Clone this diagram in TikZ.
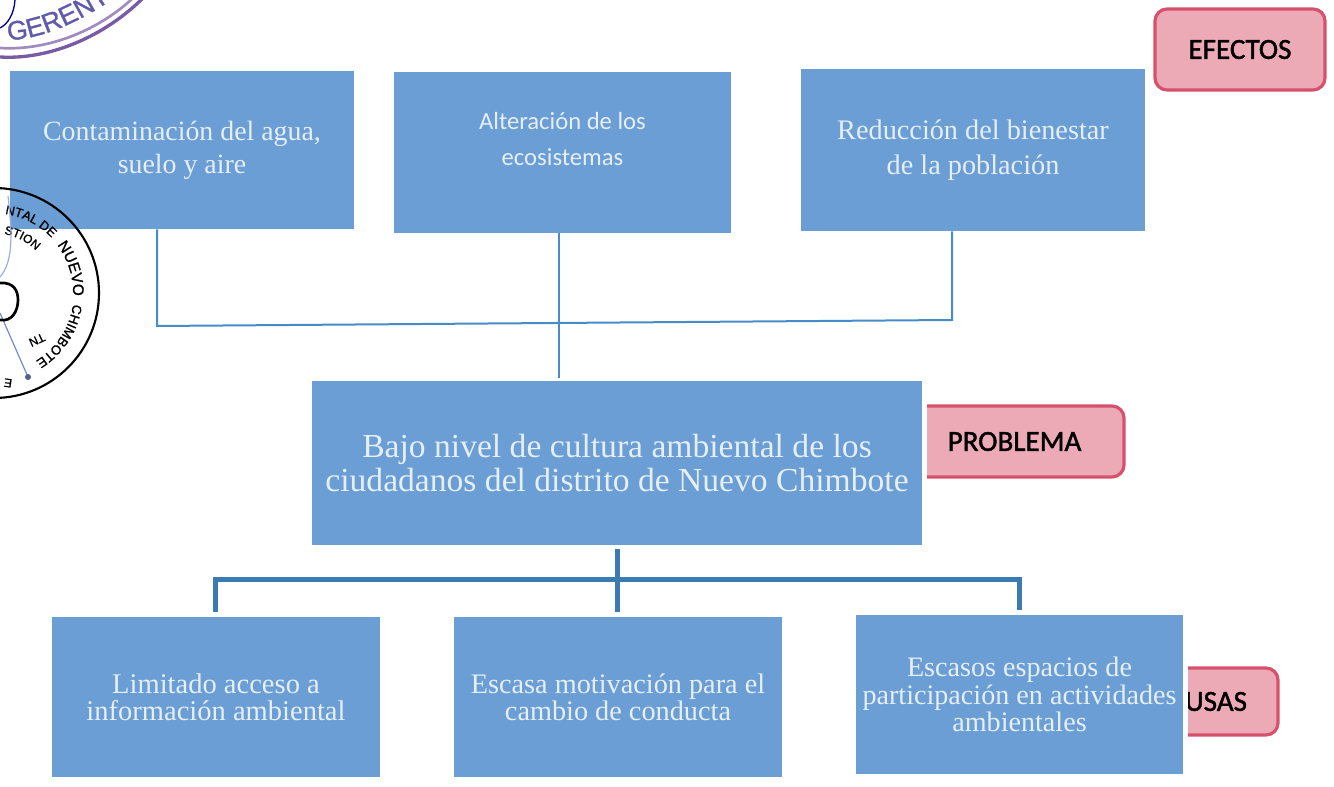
\documentclass[tikz,border=0pt]{standalone}
\usepackage{fontspec}
\setmainfont{Liberation Serif}
\newfontfamily\boxsans{Carlito}
\newfontfamily\tagfont{Carlito}[FakeBold=1.5]
\newfontfamily\stampfont{Liberation Sans}[FakeBold=1]
\usetikzlibrary{
	decorations.text
}
\definecolor{boxblue}{RGB}{106,158,212}
\definecolor{boxtext}{RGB}{230,238,246}
\definecolor{thinblue}{RGB}{70,140,200}
\definecolor{thickblue}{RGB}{60,122,178}
\definecolor{tagfill}{RGB}{236,170,182}
\definecolor{tagline}{RGB}{214,82,108}
\definecolor{stamppurple}{RGB}{120,90,165}
\definecolor{stampink}{RGB}{95,90,170}
\definecolor{penblue}{RGB}{110,140,205}
\tikzset{
	x=0.75pt,
	y=0.75pt,
	bluebox/.style={
		fill=boxblue,
		text=boxtext,
		align=center,
		inner sep=0pt,
		font=\fontsize{20.9}{25}\selectfont
	},
	halo/.style={
		preaction={draw=white,line width=8pt}
	},
	tagbox/.style={
		draw=tagline,
		line width=2.4pt,
		fill=tagfill,
		rounded corners=9pt,
		inner sep=0pt,
		font=\tagfont\fontsize{21.8}{24}\selectfont
	},
	thinlink/.style={
		draw=thinblue,
		line width=1.5pt
	},
	thicklink/.style={
		draw=thickblue,
		line width=3.75pt
	},
	lifted/.style={
		text depth=#1
	},
	stampword/.style={
		font=\stampfont\fontsize{9}{9}\selectfont,
		inner sep=0pt
	}
}

\begin{document}
\begin{tikzpicture}
	\useasboundingbox (0,0) rectangle (1334,786);

	% etiquetas
	\draw
		node[tagbox,minimum width=127.5pt,minimum height=60.75pt] (tagefectos) at (1240,736.5) {EFECTOS}
		node[tagbox,minimum width=164.25pt,minimum height=53.25pt] (tagproblema) at (1014.5,344.5) {PROBLEMA}
		node[tagbox,minimum width=93pt,minimum height=50.25pt] (tagcausas) at (1216,84.5) {USAS}
	;

	% cajas
	\draw
		node[bluebox,minimum width=258pt,minimum height=118.5pt] (efa) at (182,636) {Contaminación del agua,\\suelo y aire}
		node[bluebox,minimum width=252.75pt,minimum height=120.75pt,lifted=21pt,font=\boxsans\fontsize{18.5}{27}\selectfont] (efb) at (562.5,633.5) {Alteración de los\\ecosistemas}
		node[bluebox,minimum width=258pt,minimum height=121.5pt,font=\fontsize{21.2}{26}\selectfont] (efc) at (973,636) {Reducción del bienestar\\de la población}
		node[bluebox,halo,minimum width=457.5pt,minimum height=123pt,font=\fontsize{25.2}{26}\selectfont] (prob) at (617,323) {Bajo nivel de cultura ambiental de los\\ciudadanos del distrito de Nuevo Chimbote}
		node[bluebox,minimum width=246pt,minimum height=120pt,font=\fontsize{21.4}{20.5}\selectfont] (caa) at (216,89) {Limitado acceso a\\información ambiental}
		node[bluebox,minimum width=246pt,minimum height=120pt,font=\fontsize{21.2}{20.5}\selectfont] (cab) at (618,89) {Escasa motivación para el\\cambio de conducta}
		node[bluebox,halo,minimum width=245.25pt,minimum height=119.25pt,font=\fontsize{21.1}{20.6}\selectfont] (cac) at (1019.5,91.5) {Escasos espacios de\\participación en actividades\\ambientales}
	;

	% conectores
	\coordinate (joina) at (157,460);
	\coordinate (joinb) at (559,408);
	\coordinate (joinc) at (952,466);
	\coordinate (joind) at (617,237);
	\coordinate (joine) at (617,174);
	\coordinate (joinf) at (215,207);
	\coordinate (joing) at (1019,207);
	\coordinate (joinh) at (215,174);
	\coordinate (joini) at (1019,176);
	\draw[thinlink] (joina |- efa.south) -- (joina) -- (joinc) -- (joinc |- efc.south);
	\draw[thinlink] (joinb |- efb.south) -- (joinb);
	\draw[thicklink] (joind) -- (joine);
	\draw[thicklink] (joinh) -- (joinf) -- (joing) -- (joini);

	% sellos
	\begin{scope}
		\clip (0,0) rectangle (1334,786);
		\draw[stamppurple,line width=2.5pt] (0,729) .. controls (50,726) and (105,750) .. (143,788);
		\draw[stamppurple!70,line width=2pt] (0,738) .. controls (50,735) and (100,757) .. (133,788);
		\path[decorate,decoration={text along path,text color=stampink,
			text={|\stampfont\fontsize{20}{20}\selectfont|GERENTE}}]
			(8,746) .. controls (40,746) and (85,765) .. (125,796);
		\draw[blue!60!black,line width=1pt] (15,786) .. controls (14,772) and (8,762) .. (0,758);
		\draw[line width=1.6pt] (-6,493) circle[radius=78.75pt];
		\path[decorate,decoration={text along path,
			text={|\stampfont\fontsize{9.5}{10}\selectfont|NTAL DE}}]
			(5,572) arc[start angle=82,end angle=36,radius=60pt];
		\path[decorate,decoration={text along path,
			text={|\stampfont\fontsize{11.5}{12}\selectfont|NUEVO}}]
			(57,541) arc[start angle=37,end angle=-8,radius=60pt];
		\path[decorate,decoration={text along path,
			text={|\stampfont\fontsize{10}{10}\selectfont|CHIMBOTE}}]
			(73,482) arc[start angle=-8,end angle=-72,radius=60pt];
		\path[decorate,decoration={text along path,
			text={|\stampfont\fontsize{9}{9}\selectfont|STION}}]
			(4,552) arc[start angle=80,end angle=25,radius=45pt];
		\node[stampword,rotate=205] (stampmark) at (37,446) {TN};
		\node[stampword,rotate=172] (stampend) at (8,403) {E};
		\draw[penblue!70,line width=0.9pt] (8,590) .. controls (12,555) and (14,525) .. (0,509);
		\draw[penblue,line width=0.9pt] (0,473) -- (28,409);
		\fill[penblue!70!black] (28,409) circle[radius=3];
		\draw[line width=2pt] (0,503) .. controls (14,504) and (18,495) .. (18,486) .. controls (18,475) and (12,464) .. (0,466);
	\end{scope}
\end{tikzpicture}
\end{document}
